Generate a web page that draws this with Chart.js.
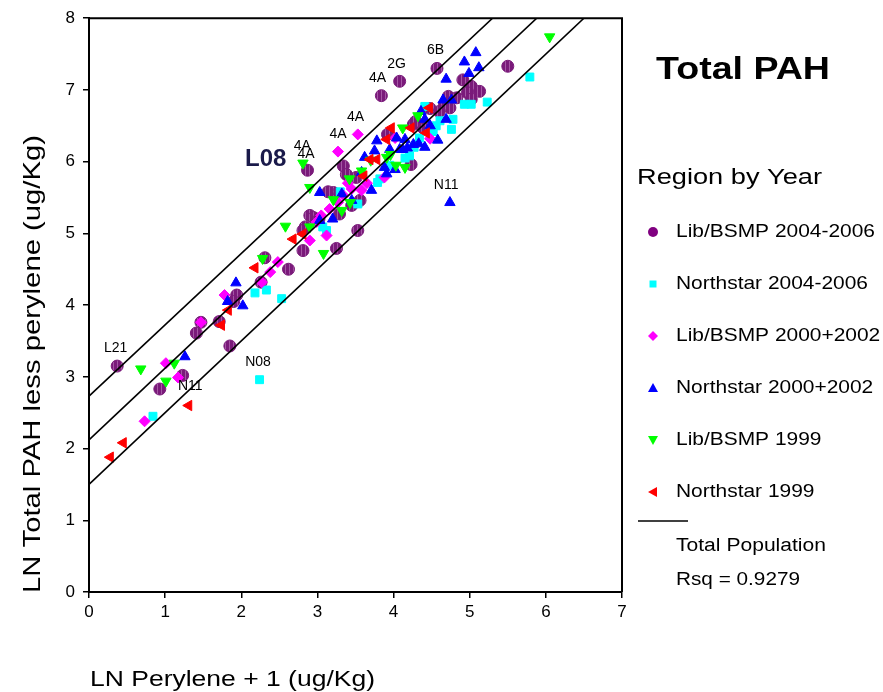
<!DOCTYPE html>
<html>
<head>
<meta charset="utf-8">
<script src="https://cdn.jsdelivr.net/npm/chart.js@4.4.0/dist/chart.umd.min.js"></script>
<style>
  html, body { margin: 0; padding: 0; background: #fff; }
</style>
</head>
<body>
<canvas id="chart" width="883" height="692"></canvas>
<script>
// Data (x = LN Perylene + 1, y = LN Total PAH less perylene)
const lib0406 = [[0.37,3.15],[0.93,2.83],[1.23,3.02],[1.41,3.61],[1.47,3.76],[1.71,3.77],[1.85,3.43],[1.94,4.14],
  [1.90,4.05],[2.26,4.32],[2.31,4.66],[2.62,4.50],[2.81,4.76],[2.84,5.09],[2.90,5.25],[2.81,5.04],[2.95,5.22],
  [2.87,5.88],[3.25,4.79],[3.21,5.57],[3.34,5.94],[3.51,5.78],[3.56,5.46],[3.45,5.39],[3.53,5.04],[3.92,6.38],
  [4.23,5.96],[3.84,6.92],[4.08,7.12],[4.57,7.30],[5.50,7.33],[4.91,7.14],[5.02,7.05],[5.13,6.98],[4.97,6.96],
  [4.72,6.91],[4.83,6.89],[5.02,6.87],[4.67,6.80],[4.74,6.75],[4.26,6.52],[4.39,6.47],[4.29,6.56],[4.48,6.74],
  [3.14,5.58],[3.29,5.27],[3.38,5.82],[3.02,5.20],[4.60,6.70]];
const ns0406 = [[0.84,2.45],[2.24,2.96],[2.18,4.17],[2.33,4.21],[2.53,4.09],[3.07,5.09],[3.12,5.04],[3.53,5.41],
  [3.79,5.71],[3.82,5.76],[4.21,6.08],[4.34,6.33],[4.56,6.50],[4.61,6.57],[4.41,6.77],[4.76,6.45],[4.78,6.59],
  [4.93,6.80],[5.02,6.80],[5.23,6.83],[5.79,7.18],[4.15,6.05],[3.95,5.95],[4.27,6.20],[3.30,5.58],[4.52,6.42]];
const lib0002 = [[0.73,2.38],[1.01,3.19],[1.17,2.99],[1.47,3.76],[1.78,4.14],[2.27,4.32],[2.38,4.46],[2.48,4.60],
  [2.90,4.90],[3.12,4.97],[2.99,5.16],[3.16,5.34],[3.27,5.43],[3.34,5.53],[3.58,5.60],[3.27,6.14],[3.53,6.38],
  [3.88,5.78],[4.02,6.33],[4.48,6.32],[3.05,5.25],[3.45,5.62],[3.40,5.70],[3.65,5.70]];
const ns0002 = [[1.26,3.28],[1.93,4.31],[1.82,4.05],[2.02,3.99],[3.03,5.57],[3.03,5.18],[3.32,5.55],[3.45,5.46],
  [3.62,6.06],[3.71,5.60],[3.75,6.15],[3.78,6.29],[3.88,5.92],[4.02,5.89],[4.04,6.33],[4.15,6.31],[4.12,6.17],
  [4.18,6.19],[4.41,6.20],[4.41,6.59],[4.58,6.30],[4.69,6.59],[4.65,6.86],[4.76,6.86],[4.69,7.15],[4.93,7.39],
  [4.99,7.23],[5.08,7.52],[5.12,7.31],[4.74,5.43],[4.33,6.25],[4.48,6.50],[3.20,5.20],[4.08,6.17],[4.26,6.24],
  [3.95,6.17],[3.58,5.85],[3.91,5.83],[4.36,6.70]];
const lib99 = [[0.68,3.11],[1.01,2.94],[1.12,3.19],[2.28,4.65],[2.58,5.10],[2.81,5.98],[2.90,5.64],[2.90,5.09],
  [3.08,4.72],[3.32,5.32],[3.43,5.43],[3.42,5.76],[3.58,5.87],[3.70,6.02],[3.91,6.06],[4.03,5.95],[4.15,5.92],
  [4.12,6.47],[4.32,6.64],[6.05,7.74],[3.21,5.47],[3.96,6.10]];
const ns99 = [[0.28,1.88],[0.45,2.08],[1.31,2.60],[1.74,3.72],[1.83,3.93],[2.18,4.52],[2.68,4.92],[2.81,4.99],
  [3.61,5.80],[3.78,6.03],[3.91,6.31],[3.97,6.47],[4.23,6.47],[4.43,6.40],[4.47,6.75],[3.69,6.03]];

// Fit line and prediction band (end points)
const fitX = [0, 5.88], fitY = [2.12, 8.0];
const upperX = [0, 5.30], upperY = [2.73, 8.0];
const lowerX = [0, 6.50], lowerY = [1.50, 8.0];

// Point labels
const labelText = ["4A", "2G", "6B", "4A", "4A", "4A", "4A", "N11", "L21", "N08", "N11"];
const labelX = [3.79, 4.04, 4.55, 3.50, 3.27, 2.80, 2.85, 4.69, 0.35, 2.22, 1.33];
const labelY = [7.17, 7.36, 7.55, 6.62, 6.39, 6.22, 6.11, 5.67, 3.40, 3.21, 2.87];

const seriesNames = ["Lib/BSMP 2004-2006", "Northstar 2004-2006", "Lib/BSMP 2000+2002",
  "Northstar 2000+2002", "Lib/BSMP 1999", "Northstar 1999"];

const FONT = "'Liberation Sans', Arial, sans-serif";

function purplePattern() {
    const c = document.createElement("canvas");
    c.width = 4; c.height = 4;
    const g = c.getContext("2d");
    g.fillStyle = "#7a1a7a";
    g.fillRect(0, 0, 4, 4);
    g.fillStyle = "#a456a4";
    g.fillRect(1, 0, 1, 4);
    return g.createPattern(c, "repeat");
}

function pts(arr) {
    return arr.map(p => ({x: p[0], y: p[1]}));
}
function linePts(xs, ys) {
    return xs.map((x, i) => ({x: x, y: ys[i]}));
}
function lineSet(xs, ys) {
    return {data: linePts(xs, ys), showLine: true, borderColor: "#000", borderWidth: 1.6,
            pointRadius: 0, fill: false};
}
function markerSet(arr, style, color, radius, rotation, border) {
    return {data: pts(arr), pointStyle: style, pointRadius: radius, pointRotation: rotation || 0,
            backgroundColor: color, borderColor: border || color, borderWidth: 1, pointHoverRadius: radius};
}

function fitText(ctx, text, x, y, font, width, align, rot) {
    ctx.save();
    ctx.font = font;
    const w = ctx.measureText(text).width;
    ctx.translate(x, y);
    if (rot) ctx.rotate(rot);
    if (width) ctx.scale(width / w, 1);
    ctx.textAlign = align || "left";
    ctx.textBaseline = "middle";
    ctx.fillText(text, 0, 0);
    ctx.restore();
}

function drawMarker(ctx, kind, x, y) {
    ctx.beginPath();
    if (kind === 0) {
        ctx.fillStyle = "#800080";
        ctx.arc(x, y, 5, 0, Math.PI * 2);
    } else if (kind === 1) {
        ctx.fillStyle = "#00ffff";
        ctx.rect(x - 3.5, y - 3.5, 7, 7);
    } else if (kind === 2) {
        ctx.fillStyle = "#ff00ff";
        ctx.moveTo(x, y - 5); ctx.lineTo(x + 5, y); ctx.lineTo(x, y + 5); ctx.lineTo(x - 5, y);
    } else if (kind === 3) {
        ctx.fillStyle = "#0000ff";
        ctx.moveTo(x, y - 5); ctx.lineTo(x + 5, y + 4); ctx.lineTo(x - 5, y + 4);
    } else if (kind === 4) {
        ctx.fillStyle = "#00ff00";
        ctx.moveTo(x - 5, y - 4); ctx.lineTo(x + 5, y - 4); ctx.lineTo(x, y + 5);
    } else {
        ctx.fillStyle = "#ff0000";
        ctx.moveTo(x - 5, y); ctx.lineTo(x + 4, y - 5); ctx.lineTo(x + 4, y + 5);
    }
    ctx.closePath();
    ctx.fill();
}

const decorations = {
    id: "decorations",
    afterDraw(chart) {
        const ctx = chart.ctx;
        const a = chart.chartArea;
        const xs = chart.scales.x, ys = chart.scales.y;

        // top and right frame
        ctx.save();
        ctx.strokeStyle = "#000";
        ctx.lineWidth = 2;
        ctx.beginPath();
        ctx.moveTo(a.left, a.top); ctx.lineTo(a.right, a.top); ctx.lineTo(a.right, a.bottom);
        ctx.stroke();
        ctx.restore();

        ctx.fillStyle = "#000";
        // point labels
        labelText.forEach((t, i) => {
            fitText(ctx, t, xs.getPixelForValue(labelX[i]), ys.getPixelForValue(labelY[i]),
                    "14px " + FONT, null, "center");
        });
        ctx.fillStyle = "#1a1a4a";
        fitText(ctx, "L08", xs.getPixelForValue(2.32), ys.getPixelForValue(6.03), "bold 24px " + FONT, null, "center");

        ctx.fillStyle = "#000";
        // axis titles
        fitText(ctx, "LN Total PAH less perylene (ug/Kg)", 33, 364, "24px " + FONT, 458, "center", -Math.PI / 2);
        fitText(ctx, "LN Perylene + 1 (ug/Kg)", 90, 680, "22px " + FONT, 285, "left");

        // title and legend
        fitText(ctx, "Total PAH", 743, 70, "bold 32px " + FONT, 174, "center");
        fitText(ctx, "Region by Year", 637, 178, "22px " + FONT, 185, "left");
        const rowY = [232, 284, 336, 388, 440, 492];
        ctx.save();
        ctx.font = "19px " + FONT;
        const sx = 192 / ctx.measureText("Northstar 2004-2006").width;
        ctx.restore();
        seriesNames.forEach((name, i) => {
            drawMarker(ctx, i, 653, rowY[i]);
            ctx.fillStyle = "#000";
            ctx.save();
            ctx.font = "19px " + FONT;
            ctx.translate(676, rowY[i]);
            ctx.scale(sx, 1);
            ctx.textBaseline = "middle";
            ctx.fillText(name, 0, 0);
            ctx.restore();
        });
        ctx.save();
        ctx.strokeStyle = "#000";
        ctx.lineWidth = 1.6;
        ctx.beginPath();
        ctx.moveTo(638, 521); ctx.lineTo(688, 521);
        ctx.stroke();
        ctx.restore();
        ctx.fillStyle = "#000";
        fitText(ctx, "Total Population", 676, 546, "18px " + FONT, 150, "left");
        fitText(ctx, "Rsq = 0.9279", 676, 580, "18px " + FONT, 124, "left");
    }
};

const tickFont = {family: FONT, size: 17};

new Chart(document.getElementById("chart"), {
    type: "scatter",
    data: {
        datasets: [
            lineSet(fitX, fitY),
            lineSet(upperX, upperY),
            lineSet(lowerX, lowerY),
            markerSet(ns99, "triangle", "#ff0000", 6, -90),
            markerSet(lib99, "triangle", "#00ff00", 6, 180),
            markerSet(ns0002, "triangle", "#0000ff", 6, 0),
            markerSet(lib0002, "rectRot", "#ff00ff", 5.5, 0),
            markerSet(ns0406, "rect", "#00ffff", 5.6, 0),
            markerSet(lib0406, "circle", purplePattern(), 6, 0, "#7a1a7a"),
        ]
    },
    options: {
        responsive: false,
        animation: false,
        layout: {padding: {left: 0, right: 261, top: 15, bottom: 0}},
        plugins: {legend: {display: false}, tooltip: {enabled: false}},
        scales: {
            x: {
                type: "linear", min: 0, max: 7,
                ticks: {stepSize: 1, color: "#000", font: tickFont, padding: 4},
                grid: {display: true, drawOnChartArea: false, drawTicks: true, tickLength: 6, color: "#000", lineWidth: 1.5},
                border: {display: true, color: "#000", width: 2},
                afterFit: s => { s.height = 100; }
            },
            y: {
                type: "linear", min: 0, max: 8,
                ticks: {stepSize: 1, color: "#000", font: tickFont, padding: 8},
                grid: {display: true, drawOnChartArea: false, drawTicks: true, tickLength: 6, color: "#000", lineWidth: 1.5},
                border: {display: true, color: "#000", width: 2},
                afterFit: s => { s.width = 89; }
            }
        }
    },
    plugins: [decorations]
});
</script>
</body>
</html>
